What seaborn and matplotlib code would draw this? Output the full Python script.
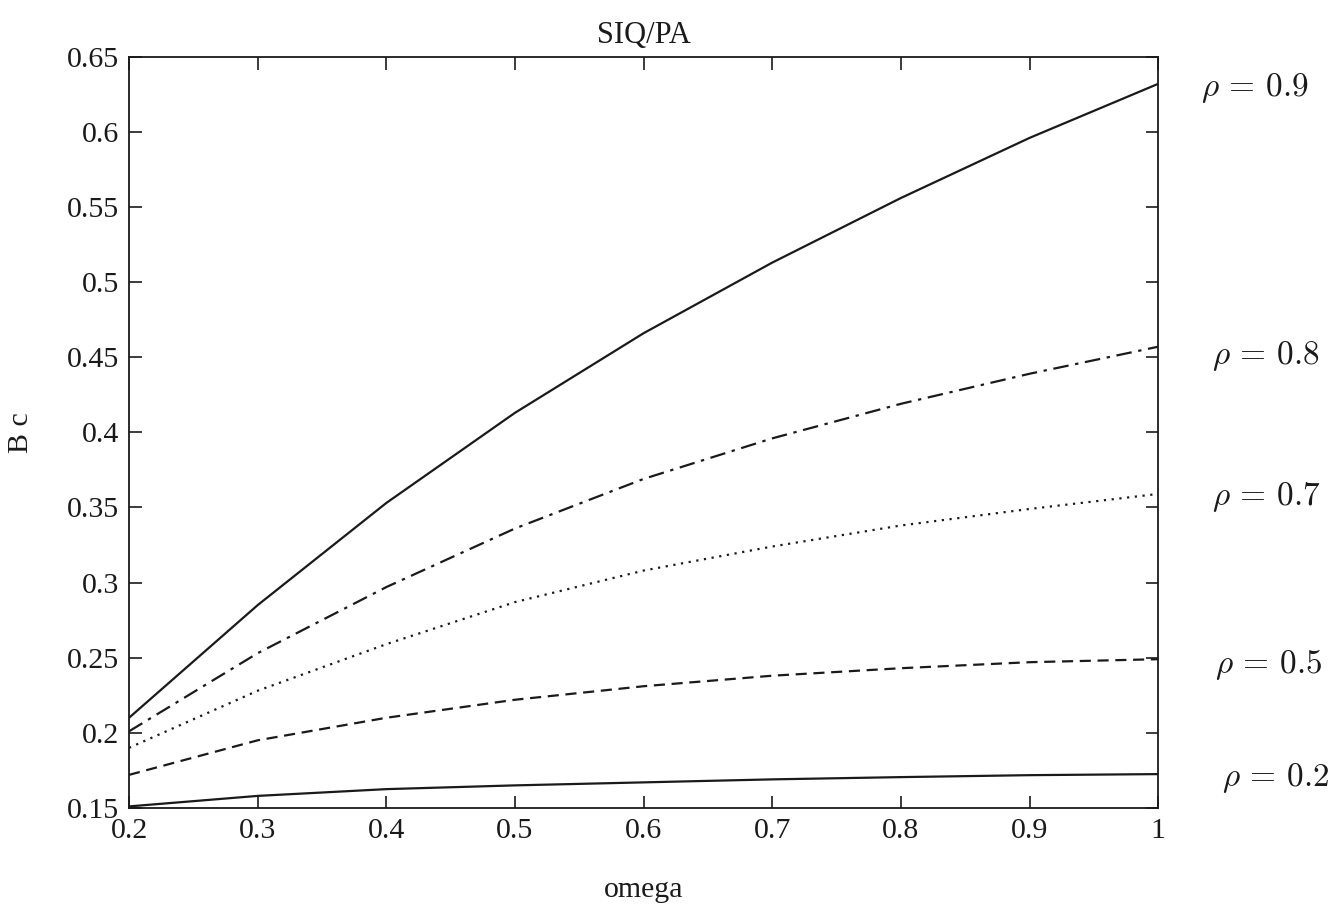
import pandas as pd
import matplotlib
matplotlib.use("Agg")
import matplotlib.pyplot as plt
import seaborn as sns

# values
omega = [0.2, 0.3, 0.4, 0.5, 0.6, 0.7, 0.8, 0.9, 1.0]
bc_09 = [0.210, 0.285, 0.353, 0.413, 0.466, 0.513, 0.556, 0.596, 0.632]
bc_08 = [0.201, 0.253, 0.297, 0.336, 0.369, 0.396, 0.419, 0.439, 0.457]
bc_07 = [0.190, 0.228, 0.259, 0.287, 0.308, 0.324, 0.338, 0.349, 0.359]
bc_05 = [0.172, 0.195, 0.210, 0.222, 0.231, 0.238, 0.243, 0.247, 0.249]
bc_02 = [0.151, 0.158, 0.1625, 0.165, 0.167, 0.169, 0.1705, 0.1718, 0.1725]
rho_labels = ['0.9', '0.8', '0.7', '0.5', '0.2']

sns.set_style('ticks')
plt.rcParams['font.family'] = ['Liberation Serif', 'DejaVu Serif']
plt.rcParams['mathtext.fontset'] = 'cm'

fig = plt.figure(figsize=(13.4, 9.16), dpi=100)
ax = fig.add_axes([0.0963, 0.118, 0.768, 0.82])

series = [bc_09, bc_08, bc_07, bc_05, bc_02]
styles = ['-', (0, (7, 3, 1.5, 3)), (0, (1, 2.5)), (0, (5, 3)), '-']
for vals, ls in zip(series, styles):
    df = pd.DataFrame({'omega': omega, 'Bc': vals})
    sns.lineplot(data=df, x='omega', y='Bc', ax=ax, color='#1a1a1a',
                 linewidth=1.6, linestyle=ls)

# labels to the right of the axes
label_pos = [(1.033, 0.629), (1.042, 0.451), (1.042, 0.357), (1.044, 0.245), (1.050, 0.170)]
for lab, (lx, ly) in zip(rho_labels, label_pos):
    ax.text(lx, ly, r'$\rho\,=\,' + lab + '$', fontsize=24, va='center', ha='left',
            clip_on=False, color='#1a1a1a')

ax.set_xlim(0.2, 1.0)
ax.set_ylim(0.15, 0.65)
ax.set_xticks([0.2, 0.3, 0.4, 0.5, 0.6, 0.7, 0.8, 0.9, 1.0])
ax.set_xticklabels(['0.2', '0.3', '0.4', '0.5', '0.6', '0.7', '0.8', '0.9', '1'])
ax.set_yticks([0.15, 0.2, 0.25, 0.3, 0.35, 0.4, 0.45, 0.5, 0.55, 0.6, 0.65])
ax.set_yticklabels(['0.15', '0.2', '0.25', '0.3', '0.35', '0.4', '0.45', '0.5',
                    '0.55', '0.6', '0.65'])
ax.tick_params(direction='in', length=9, width=1.2, top=True, right=True,
               labelsize=21.5, colors='#1a1a1a', pad=7)
for sp in ax.spines.values():
    sp.set_linewidth(1.3)
    sp.set_color('#1a1a1a')

ax.set_title('SIQ/PA', fontsize=22, pad=10, color='#1a1a1a')
ax.set_xlabel('omega', fontsize=21.5, labelpad=24, color='#1a1a1a')
ax.set_ylabel('B c', fontsize=21.5, labelpad=24, color='#1a1a1a')

fig.savefig('out.png', dpi=100)
